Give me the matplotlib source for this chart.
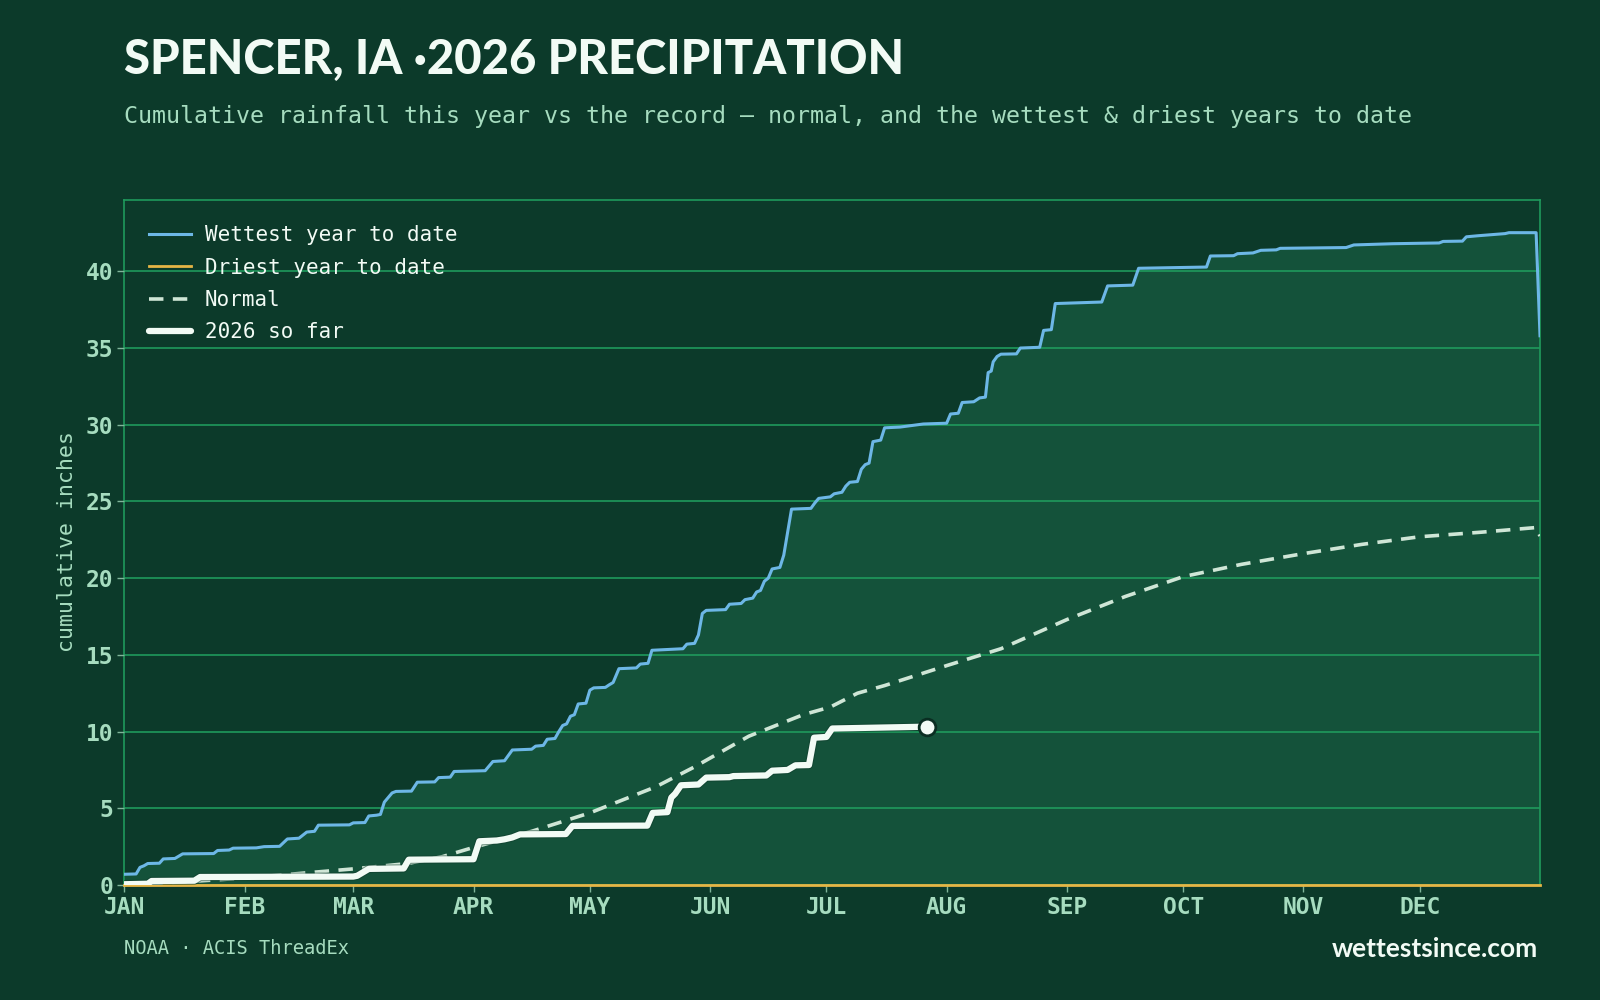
"""Spencer, IA 2026 cumulative precipitation vs wettest / driest / normal."""
import matplotlib
matplotlib.use("Agg")
import matplotlib.pyplot as plt
import matplotlib.patheffects as pe

# ---- data (day of year, cumulative inches) ----
month_starts = [0, 31, 59, 90, 120, 151, 181, 212, 243, 273, 304, 334]
month_labels = ["JAN", "FEB", "MAR", "APR", "MAY", "JUN",
                "JUL", "AUG", "SEP", "OCT", "NOV", "DEC"]

wet_days = [0, 3, 4, 5, 6, 9, 10, 13, 15, 23, 24, 27, 28, 34, 36, 40, 42, 45, 47, 49,
            50, 58, 59, 62, 63, 65, 66, 67, 69, 70, 74, 75.5, 80, 81, 84, 85, 93, 94.5,
            95, 98, 100, 105, 106, 108, 109, 111, 112, 113, 114, 115, 116, 117, 119,
            120, 121, 124, 125, 126, 127.5, 132, 133, 135, 136, 144, 145, 147, 148,
            149, 150, 155, 156, 159, 160, 162, 163, 164, 165, 166, 167, 169, 170, 171,
            172, 177, 178, 179, 182, 183, 185, 186, 187, 189, 190, 191, 192, 193, 195,
            196, 200, 206, 212, 213, 215, 216, 219, 220.5, 222, 222.7, 223.5, 224, 225,
            226, 230, 231, 236, 237, 239, 240, 252, 253.5, 260, 261.5, 279, 280, 286,
            287, 291, 293, 297, 298, 315, 317, 327, 339, 340, 345, 346, 349, 356, 357,
            364, 365]
wet_vals = [0.70, 0.72, 1.15, 1.25, 1.40, 1.42, 1.70, 1.73, 2.03, 2.05, 2.25, 2.28, 2.40,
            2.42, 2.50, 2.52, 3.00, 3.05, 3.45, 3.50, 3.90, 3.92, 4.05, 4.07, 4.50, 4.55,
            4.60, 5.40, 6.00, 6.10, 6.12, 6.70, 6.72, 7.00, 7.03, 7.40, 7.45, 7.90, 8.05,
            8.10, 8.80, 8.85, 9.05, 9.10, 9.50, 9.55, 10.0, 10.4, 10.5, 11.0, 11.1, 11.8,
            11.85, 12.7, 12.85, 12.88, 13.05, 13.2, 14.1, 14.15, 14.4, 14.45, 15.3, 15.4,
            15.7, 15.75, 16.3, 17.7, 17.9, 17.95, 18.3, 18.35, 18.6, 18.7, 19.1, 19.2,
            19.8, 20.0, 20.6, 20.7, 21.5, 23.0, 24.5, 24.55, 24.9, 25.2, 25.3, 25.5, 25.6,
            26.0, 26.25, 26.3, 27.1, 27.4, 27.5, 28.9, 29.0, 29.8, 29.85, 30.05, 30.1,
            30.7, 30.75, 31.45, 31.5, 31.75, 31.8, 33.4, 33.5, 34.1, 34.45, 34.6, 34.62,
            35.0, 35.05, 36.15, 36.2, 37.9, 38.0, 39.05, 39.1, 40.2, 40.28, 41.0, 41.02,
            41.15, 41.2, 41.37, 41.4, 41.5, 41.55, 41.72, 41.8, 41.85, 41.95, 41.97,
            42.25, 42.32, 42.46, 42.52, 42.52, 35.8]

dry_days = [0, 365]
dry_vals = [0.0, 0.0]

normal_days = [0, 15, 31, 45, 59, 73, 82, 90, 105, 120, 137, 147, 161, 175, 182, 189,
               196, 212, 226, 243, 258, 273, 288, 304, 319, 334, 350, 364, 365]
normal_vals = [0.0, 0.2, 0.45, 0.75, 1.05, 1.4, 1.85, 2.45, 3.5, 4.7, 6.4, 7.7, 9.7,
               11.1, 11.6, 12.5, 13.0, 14.3, 15.4, 17.3, 18.8, 20.1, 20.9, 21.6, 22.2,
               22.7, 23.0, 23.3, 22.75]

y26_days = [0, 6, 7, 18, 19.5, 59, 60, 63, 72, 73.3, 90, 91.5, 96, 98, 100, 101, 102,
            113.8, 115.5, 134.8, 136.2, 140, 141, 142, 143.5, 148, 150, 156, 157, 165.5,
            167, 171, 173, 176.5, 177.8, 181, 182.5, 207]
y26_vals = [0.05, 0.08, 0.26, 0.28, 0.52, 0.55, 0.60, 1.05, 1.08, 1.65, 1.68, 2.85, 2.90,
            2.98, 3.10, 3.20, 3.30, 3.32, 3.85, 3.87, 4.70, 4.75, 5.70, 5.95, 6.50, 6.55,
            7.00, 7.03, 7.10, 7.14, 7.45, 7.50, 7.80, 7.82, 9.60, 9.65, 10.2, 10.32]

# ---- style ----
BG = "#0c3a2a"
FILL = "#14523a"
GRID = "#1f9a5c"
PALE = "#a6dcbf"
WHITE = "#f2fbf5"
MONO = "DejaVu Sans Mono"

fig = plt.figure(figsize=(16, 10), dpi=100, facecolor=BG)
ax = fig.add_axes([0.0778, 0.115, 0.8847, 0.685], facecolor=BG)

ax.fill_between(wet_days, 0, wet_vals, color=FILL, lw=0, zorder=1)
ax.plot(wet_days, wet_vals, color="#6db7e6", lw=2.2, zorder=4,
        label="Wettest year to date")
ax.plot(dry_days, dry_vals, color="#e6b545", lw=2.0, zorder=4,
        label="Driest year to date", clip_on=False)
ax.plot(normal_days, normal_vals, color="#cfe6d6", lw=2.6, ls=(0, (4, 2.6)),
        zorder=5, label="Normal")
ax.plot(y26_days, y26_vals, color=WHITE, lw=4.5, zorder=6, label="2026 so far",
        solid_capstyle="round",
        path_effects=[pe.Stroke(linewidth=6, foreground="#0f3b2b", alpha=0.5), pe.Normal()])
ax.plot(y26_days[-1], y26_vals[-1], "o", ms=12, mfc=WHITE, mec="#0a2e22", mew=2,
        zorder=7)

ax.set_xlim(0, 365)
ax.set_ylim(0, 44.65)
ax.set_xticks(month_starts)
ax.set_xticklabels(month_labels)
ax.set_yticks(range(0, 45, 5))

ax.set_axisbelow(False)
ax.grid(axis="y", color=GRID, lw=1.2, zorder=2)
ax.grid(axis="x", visible=False)
for s in ax.spines.values():
    s.set_color(GRID)
    s.set_linewidth(1.2)

ax.tick_params(colors=PALE, length=5, width=1, pad=3)
ax.tick_params(axis="x", color="#7fb59a")
ax.tick_params(axis="y", color="#7fb59a")
for lab in ax.get_xticklabels() + ax.get_yticklabels():
    lab.set_fontfamily(MONO)
    lab.set_fontweight("bold")
    lab.set_fontsize(16.5)
    lab.set_color(PALE)

leg = ax.legend(loc="upper left", frameon=False, prop={"family": MONO, "size": 15},
                handlelength=2.0, handletextpad=0.65, labelspacing=0.6,
                borderaxespad=0.6, borderpad=0.6)
for t in leg.get_texts():
    t.set_color(WHITE)

# ---- text ----
fig.text(0.0778, 0.94, "SPENCER, IA \u00b72026 PRECIPITATION", fontfamily="Lato",
         fontweight="black", fontsize=34, color=WHITE, va="center", ha="left")
fig.text(0.0778, 0.884,
         "Cumulative rainfall this year vs the record \u2014 normal, and the wettest & driest years to date",
         fontfamily=MONO, fontsize=16.75, color=PALE, va="center", ha="left")
fig.text(0.042, 0.458, "cumulative inches", fontfamily=MONO, fontsize=15.5,
         color=PALE, rotation=90, va="center", ha="center")
fig.text(0.0778, 0.052, "NOAA \u00b7 ACIS ThreadEx", fontfamily=MONO, fontsize=13.5,
         color=PALE, va="center", ha="left")
fig.text(0.9612, 0.051, "wettestsince.com", fontfamily="Lato", fontweight="bold",
         fontsize=19, color=WHITE, va="center", ha="right")

fig.savefig("out.png", dpi=100, facecolor=BG)
